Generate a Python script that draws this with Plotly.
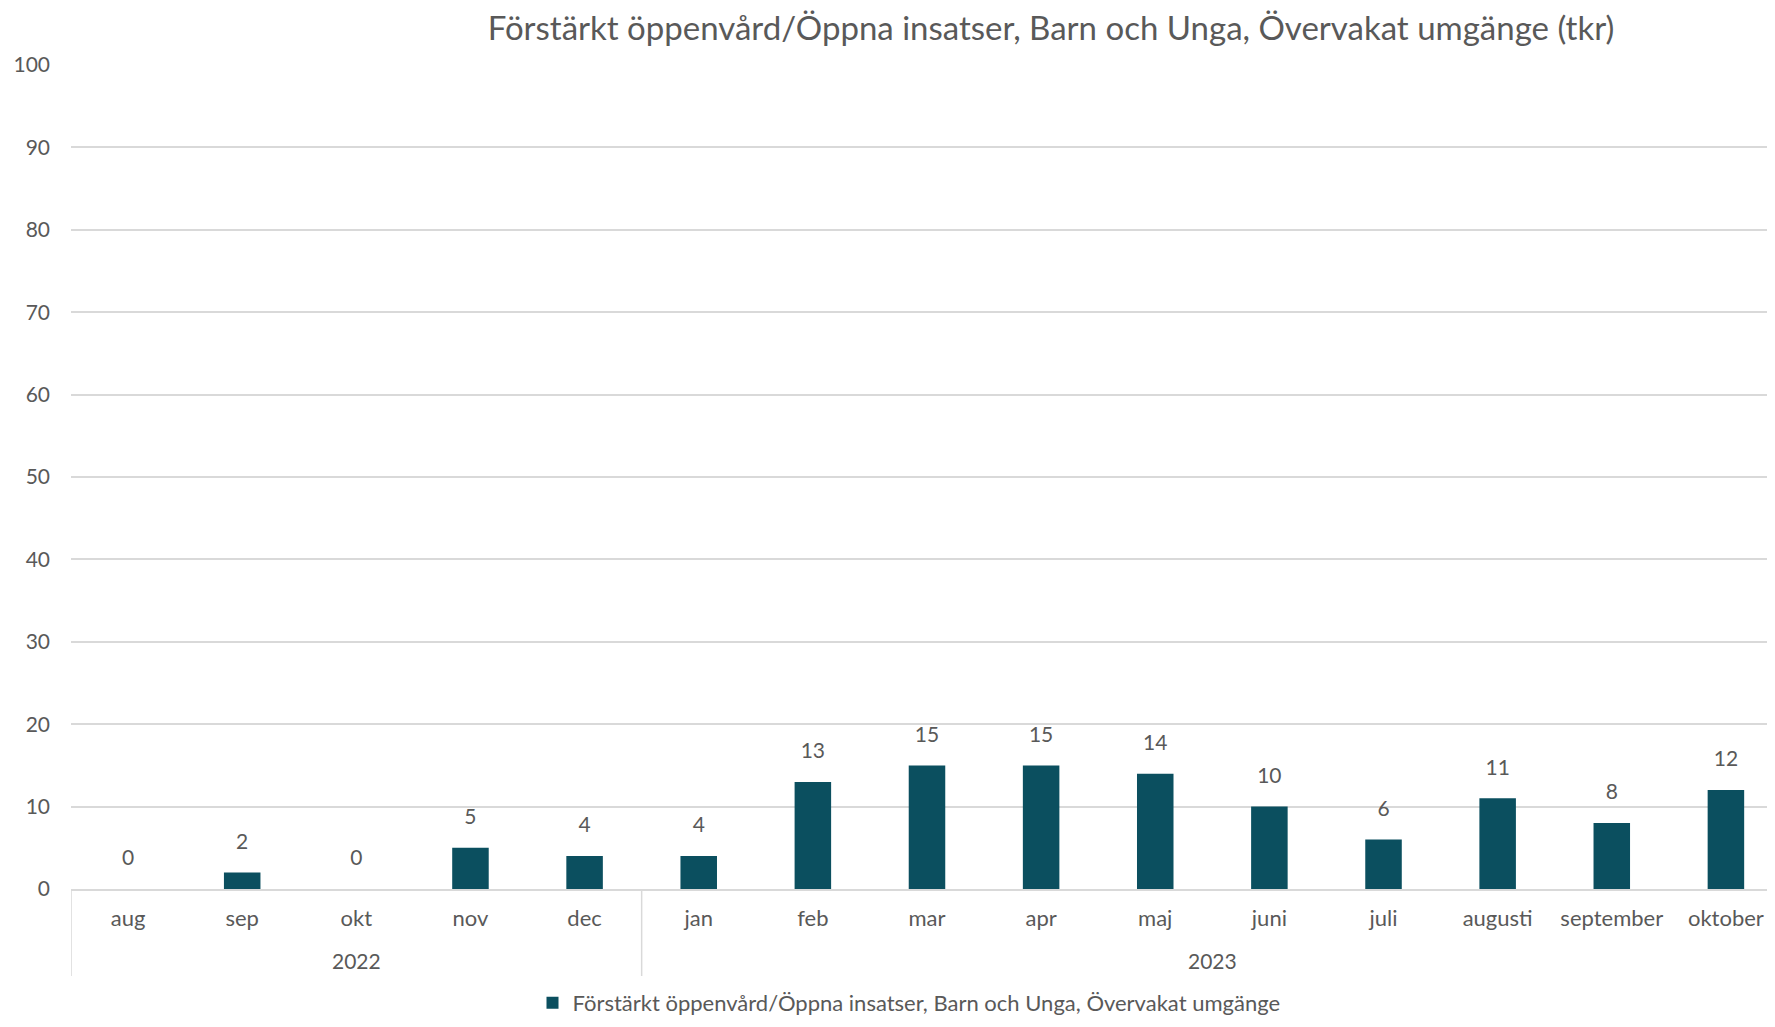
import plotly.graph_objects as go

months = ["aug", "sep", "okt", "nov", "dec", "jan", "feb", "mar", "apr", "maj",
          "juni", "juli", "augusti", "september", "oktober"]
values = [0, 2, 0, 5, 4, 4, 13, 15, 15, 14, 10, 6, 11, 8, 12]
year_labels = ["2022", "2023"]
year_counts = [5, 10]
series_name = "Förstärkt öppenvård/Öppna insatser, Barn och Unga, Övervakat umgänge"
title_text = "Förstärkt öppenvård/Öppna insatser, Barn och Unga, Övervakat umgänge (tkr)"

BAR = "#0b4f5f"
GRID = "#d9d9d9"
TXT = "#595959"
FONT = "Lato"

# page body has an 8px margin; figure sized to fit the window exactly
W, H = 1759, 1011
L, T, B = 63, 57, 130
plot_h = H - T - B

fig = go.Figure()
fig.add_trace(go.Bar(
    x=months, y=values, name=series_name,
    marker=dict(color=BAR, line=dict(width=0)),
))
fig.add_trace(go.Scatter(
    x=months, y=values, mode="markers+text",
    text=[str(v) for v in values], textposition="top center",
    marker=dict(size=28, opacity=0),
    textfont=dict(family=FONT, size=21, color=TXT),
    showlegend=False, hoverinfo="skip",
))

# year group labels and dividers on the category axis
start = 0
for lab, cnt in zip(year_labels, year_counts):
    fig.add_annotation(x=start + (cnt - 1) / 2, xref="x", y=0, yref="paper",
                       yshift=-71, yanchor="middle", text=lab, showarrow=False,
                       font=dict(family=FONT, size=21, color=TXT))
    fig.add_shape(type="line", xref="x", yref="paper", x0=start - 0.5, x1=start - 0.5,
                  y0=0, y1=-87 / plot_h, line=dict(color=GRID, width=1.5))
    start += cnt

fig.update_layout(
    width=W, height=H,
    margin=dict(l=L, r=0, t=T, b=B, autoexpand=False),
    paper_bgcolor="white", plot_bgcolor="white",
    bargap=0.68,
    font=dict(family=FONT, color=TXT, size=21),
    title=dict(text=title_text, x=1043 / W, xref="container", xanchor="center",
               y=1 - 9 / H, yref="container", yanchor="top", pad=dict(t=0, b=0),
               font=dict(family=FONT, size=33, color=TXT)),
    legend=dict(orientation="h", x=901 / W, xref="container", xanchor="center",
                y=1 - 995 / H, yref="container", yanchor="middle",
                font=dict(family=FONT, size=22, color=TXT)),
    showlegend=True,
)
fig.update_xaxes(
    type="category", range=[-0.5, 14.36], automargin=False,
    showline=True, linecolor=GRID, linewidth=1.5,
    tickfont=dict(family=FONT, size=22, color=TXT),
    showgrid=False, ticks="", ticklabelstandoff=9,
)
fig.update_yaxes(
    range=[0, 100], dtick=10, showgrid=True, gridcolor=GRID, gridwidth=1.5,
    zeroline=False, showline=False, ticks="", automargin=False,
    tickfont=dict(family=FONT, size=21, color=TXT),
    ticklabelstandoff=20,
)

fig.write_html("out.html")
